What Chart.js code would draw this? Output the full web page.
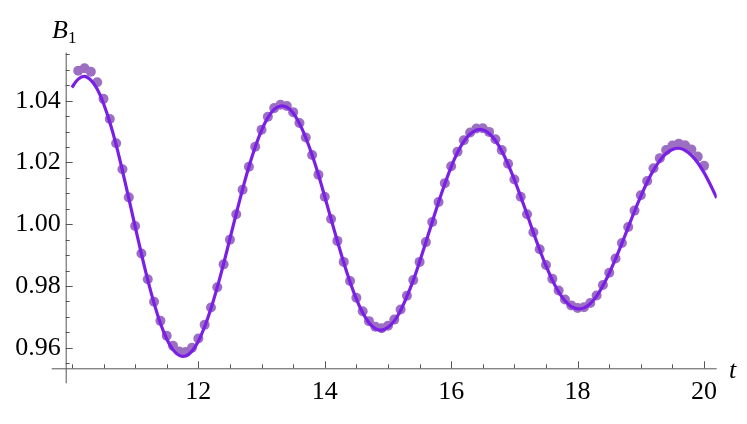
<!DOCTYPE html>
<html>
<head>
<meta charset="utf-8">
<script src="https://cdn.jsdelivr.net/npm/chart.js@4.4.1/dist/chart.umd.min.js"></script>
<style>
  html, body { margin: 0; padding: 0; background: #fff; }
  #wrap { position: relative; width: 747px; height: 424px; }
  .lbl { position: absolute; font-family: 'Liberation Serif', 'DejaVu Serif', serif; font-style: italic; color: #000; line-height: 1; }
  .lbl sub { font-style: normal; font-size: 17px; vertical-align: -5px; }
</style>
</head>
<body>
<div id="wrap">
  <canvas id="chart" width="747" height="424"></canvas>
  <div class="lbl" style="left:52px; top:17px; font-size:26px;">B<sub>1</sub></div>
  <div class="lbl" style="left:729px; top:357px; font-size:26px;">t</div>
</div>
<script>
// B1(t): fitted curve + sampled points

// time grid (curve), 10.0 .. 20.2
const tGrid = [
  10.0, 10.1, 10.2, 10.3, 10.4, 10.5, 10.6, 10.7, 10.8, 10.9,
  11.0, 11.1, 11.2, 11.3, 11.4, 11.5, 11.6, 11.7, 11.8, 11.9,
  12.0, 12.1, 12.2, 12.3, 12.4, 12.5, 12.6, 12.7, 12.8, 12.9,
  13.0, 13.1, 13.2, 13.3, 13.4, 13.5, 13.6, 13.7, 13.8, 13.9,
  14.0, 14.1, 14.2, 14.3, 14.4, 14.5, 14.6, 14.7, 14.8, 14.9,
  15.0, 15.1, 15.2, 15.3, 15.4, 15.5, 15.6, 15.7, 15.8, 15.9,
  16.0, 16.1, 16.2, 16.3, 16.4, 16.5, 16.6, 16.7, 16.8, 16.9,
  17.0, 17.1, 17.2, 17.3, 17.4, 17.5, 17.6, 17.7, 17.8, 17.9,
  18.0, 18.1, 18.2, 18.3, 18.4, 18.5, 18.6, 18.7, 18.8, 18.9,
  19.0, 19.1, 19.2, 19.3, 19.4, 19.5, 19.6, 19.7, 19.8, 19.9,
  20.0, 20.1, 20.2
];

// curve values on tGrid
const curveB1 = [
  1.0443, 1.0470, 1.0479, 1.0467, 1.0438, 1.0391, 1.0330, 1.0257, 1.0173, 1.0084,
  0.9993, 0.9904, 0.9820, 0.9744, 0.9679, 0.9628, 0.9593, 0.9575, 0.9573, 0.9589,
  0.9621, 0.9668, 0.9727, 0.9796, 0.9872, 0.9953, 1.0034, 1.0113, 1.0186, 1.0250,
  1.0304, 1.0345, 1.0372, 1.0383, 1.0379, 1.0360, 1.0326, 1.0280, 1.0224, 1.0160,
  1.0089, 1.0017, 0.9945, 0.9876, 0.9813, 0.9758, 0.9713, 0.9681, 0.9662, 0.9657,
  0.9666, 0.9687, 0.9721, 0.9766, 0.9818, 0.9878, 0.9942, 1.0007, 1.0071, 1.0131,
  1.0186, 1.0232, 1.0268, 1.0292, 1.0305, 1.0306, 1.0294, 1.0271, 1.0237, 1.0194,
  1.0144, 1.0089, 1.0032, 0.9973, 0.9917, 0.9865, 0.9819, 0.9781, 0.9752, 0.9733,
  0.9726, 0.9729, 0.9743, 0.9767, 0.9801, 0.9841, 0.9888, 0.9938, 0.9990, 1.0042,
  1.0091, 1.0136, 1.0175, 1.0206, 1.0229, 1.0242, 1.0246, 1.0239, 1.0223, 1.0199,
  1.0167, 1.0128, 1.0085
];

// sampled points at t = 10.1 .. 20.0
const tSamples = tGrid.slice(1, 101);
const sampleB1 = [
  1.0497, 1.0505, 1.0494, 1.0460, 1.0406, 1.0341, 1.0262, 1.0178, 1.0087,
  0.9994, 0.9905, 0.9822, 0.9749, 0.9687, 0.9639, 0.9606, 0.9588, 0.9586, 0.9600,
  0.9630, 0.9674, 0.9730, 0.9796, 0.9870, 0.9950, 1.0032, 1.0112, 1.0186, 1.0251,
  1.0306, 1.0348, 1.0376, 1.0387, 1.0383, 1.0363, 1.0328, 1.0281, 1.0224, 1.0160,
  1.0089, 1.0017, 0.9946, 0.9878, 0.9816, 0.9762, 0.9718, 0.9686, 0.9668, 0.9663,
  0.9671, 0.9691, 0.9724, 0.9768, 0.9819, 0.9878, 0.9942, 1.0007, 1.0072, 1.0133,
  1.0188, 1.0235, 1.0272, 1.0297, 1.0310, 1.0311, 1.0299, 1.0275, 1.0240, 1.0196,
  1.0145, 1.0089, 1.0032, 0.9974, 0.9919, 0.9868, 0.9823, 0.9785, 0.9756, 0.9737,
  0.9729, 0.9731, 0.9745, 0.9769, 0.9803, 0.9843, 0.9889, 0.9939, 0.9991, 1.0044,
  1.0094, 1.0140, 1.0181, 1.0214, 1.0240, 1.0255, 1.0261, 1.0256, 1.0242, 1.0219,
  1.0189
];

// axes
const xTicks = [12, 14, 16, 18, 20];
const yTicks = [0.96, 0.98, 1.00, 1.02, 1.04];
const xRange = [9.902, 20.2];
const yRange = [0.95333, 1.05555];

const AXIS_COLOR = '#555';
const FONT = "'Liberation Serif', 'DejaVu Serif', serif";

// Mathematica-style axes: ticks pointing inward, axes crossing
const mmaAxes = {
  id: 'mmaAxes',
  beforeDatasetsDraw(chart) {
    const { ctx, chartArea: a, scales: { x, y } } = chart;
    ctx.save();
    ctx.strokeStyle = AXIS_COLOR;
    ctx.lineWidth = 1;
    ctx.beginPath();
    // x axis
    ctx.moveTo(a.left - 14, a.bottom + 0.5);
    ctx.lineTo(a.right, a.bottom + 0.5);
    // y axis
    ctx.moveTo(a.left + 0.5, a.top);
    ctx.lineTo(a.left + 0.5, a.bottom + 15);
    // x ticks (minor every 0.5)
    for (let v = 10; v <= 20.001; v += 0.5) {
      const px = Math.round(x.getPixelForValue(v)) + 0.5;
      const len = xTicks.includes(Math.round(v * 10) / 10) ? 7 : 4;
      ctx.moveTo(px, a.bottom);
      ctx.lineTo(px, a.bottom - len);
    }
    // y ticks (minor every 0.005)
    for (let v = 0.955; v <= 1.0555; v += 0.005) {
      const py = Math.round(y.getPixelForValue(v)) + 0.5;
      const major = yTicks.some(t => Math.abs(t - v) < 1e-6);
      ctx.moveTo(a.left, py);
      ctx.lineTo(a.left + (major ? 7 : 4), py);
    }
    ctx.stroke();
    ctx.restore();
  }
};

new Chart(document.getElementById('chart'), {
  type: 'scatter',
  data: {
    datasets: [
      {
        label: 'fit',
        data: tGrid.map((t, i) => ({ x: t, y: curveB1[i] })),
        showLine: true,
        borderColor: '#7a1fe6',
        borderWidth: 3.2,
        pointRadius: 0,
        tension: 0.4,
        order: 0,
      },
      {
        label: 'data',
        data: tSamples.map((t, i) => ({ x: t, y: sampleB1[i] })),
        showLine: false,
        backgroundColor: '#9c6fc3',
        borderWidth: 0,
        pointRadius: 5,
        order: 1,
      }
    ]
  },
  options: {
    responsive: false,
    animation: false,
    devicePixelRatio: 1,
    layout: { padding: { left: 0, right: 30.3, top: 52.7, bottom: 0 } },
    plugins: { legend: { display: false }, tooltip: { enabled: false } },
    scales: {
      x: {
        type: 'linear',
        min: xRange[0], max: xRange[1],
        afterBuildTicks: s => { s.ticks = xTicks.map(v => ({ value: v })); },
        afterFit: s => { s.height = 55.7; },
        grid: { display: false, drawTicks: false },
        border: { display: false },
        ticks: { color: '#000', font: { family: FONT, size: 26 }, padding: 8, maxRotation: 0, callback: v => String(v) }
      },
      y: {
        type: 'linear',
        min: yRange[0], max: yRange[1],
        afterBuildTicks: s => { s.ticks = yTicks.map(v => ({ value: v })); },
        afterFit: s => { s.width = 65.7; },
        grid: { display: false, drawTicks: false },
        border: { display: false },
        ticks: { color: '#000', font: { family: FONT, size: 26 }, padding: 5, callback: v => Number(v).toFixed(2) }
      }
    }
  },
  plugins: [mmaAxes]
});
</script>
</body>
</html>
